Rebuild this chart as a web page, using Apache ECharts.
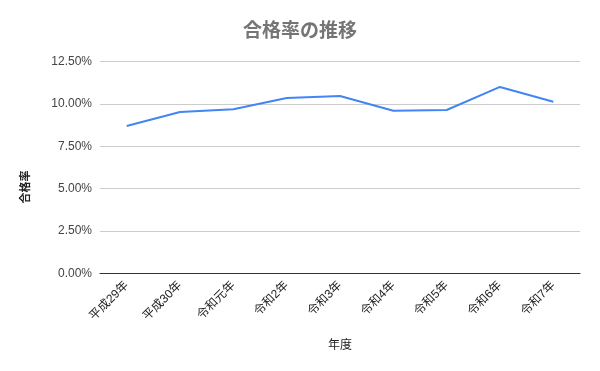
<!DOCTYPE html>
<html><head><meta charset="utf-8">
<script src="https://cdn.jsdelivr.net/npm/echarts@6/dist/echarts.min.js"></script>
<style>html,body{margin:0;padding:0;background:#fff}#c{width:600px;height:371px}</style>
</head><body><div id="c"></div>
<script>
const categories = ['平成29年','平成30年','令和元年','令和2年','令和3年','令和4年','令和5年','令和6年','令和7年'];
const passRate = [8.70, 9.52, 9.68, 10.35, 10.47, 9.60, 9.64, 11.00, 10.13];
const title = '合格率の推移';
const xName = '年度';
const yName = '合格率';
const FONT = 'Arial, "Liberation Sans", "Noto Sans CJK JP", sans-serif';
const chart = echarts.init(document.getElementById('c'));
chart.setOption({
  backgroundColor: '#fff',
  animation: false,
  title: {text: title, left: 'center', top: 17, textStyle: {fontSize: 19, fontWeight: 'bold', color: '#757575', fontFamily: FONT}},
  grid: {left: 100, right: 20, top: 61.5, bottom: 97.5},
  xAxis: {
    type: 'category', data: categories, boundaryGap: true,
    axisLine: {lineStyle: {color: '#333', width: 1}},
    axisTick: {show: false},
    axisLabel: {rotate: 45, fontSize: 12, color: '#222', fontFamily: FONT, margin: 10, interval: 0}
  },
  yAxis: {
    type: 'value', min: 0, max: 12.5, interval: 2.5,
    axisLine: {show: false}, axisTick: {show: false},
    splitLine: {lineStyle: {color: '#cccccc', width: 1}},
    axisLabel: {fontSize: 12, color: '#444', fontFamily: FONT, margin: 8, formatter: v => v.toFixed(2) + '%'}
  },
  graphic: [
    {type: 'text', x: 340, y: 346, style: {text: xName, fill: '#222', font: '12px ' + FONT, textAlign: 'center', textVerticalAlign: 'middle'}},
    {type: 'text', x: 25.5, y: 187, rotation: Math.PI/2, style: {text: yName, fill: '#222', font: 'bold 11px ' + FONT, textAlign: 'center', textVerticalAlign: 'middle'}}
  ],
  series: [{
    type: 'line', data: passRate, symbol: 'none',
    lineStyle: {color: '#4285F4', width: 2}, itemStyle: {color: '#4285F4'}
  }]
});
</script></body></html>
